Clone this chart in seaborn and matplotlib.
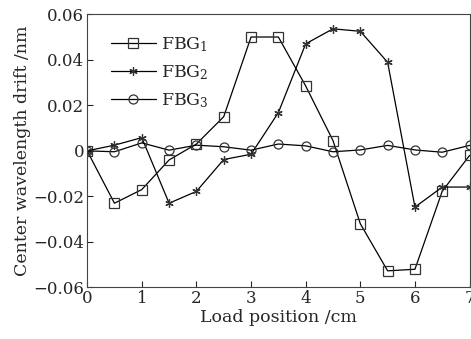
import seaborn as sns
import matplotlib.pyplot as plt
import pandas as pd

# load position (cm)
positions = [0, 0.5, 1, 1.5, 2, 2.5, 3, 3.5, 4, 4.5, 5, 5.5, 6, 6.5, 7]

# center wavelength drift (nm)
fbg1 = [0, -0.023, -0.017, -0.004, 0.003, 0.015, 0.050, 0.050, 0.0285, 0.0045,
        -0.032, -0.0527, -0.052, -0.0177, -0.002]
fbg2 = [0, 0.0025, 0.0058, -0.023, -0.0178, -0.0038, -0.0015, 0.0168, 0.047,
        0.0536, 0.0525, 0.0389, -0.0247, -0.0159, -0.0159]
fbg3 = [0, -0.0004, 0.0035, 0.0003, 0.0025, 0.0018, 0.0003, 0.003, 0.0022,
        -0.0004, 0.0004, 0.0024, 0.0004, -0.0006, 0.0024]

labels = ['FBG$_1$', 'FBG$_2$', 'FBG$_3$']
markers = ['s', (6, 2, 0), 'o']
msizes = [6.5, 6, 6.5]

sns.set_style('white')
plt.rcParams['font.family'] = 'DejaVu Serif'
plt.rcParams['mathtext.fontset'] = 'dejavuserif'
plt.rcParams['font.size'] = 12

fig = plt.figure(figsize=(4.71, 3.39), dpi=100)
ax = fig.add_axes([0.185, 0.152, 0.812, 0.806])

for vals, lab, mk, ms in zip([fbg1, fbg2, fbg3], labels, markers, msizes):
    df = pd.DataFrame({'pos': positions, 'drift': vals})
    sns.lineplot(data=df, x='pos', y='drift', ax=ax, color='black', lw=0.9,
                 marker=mk, markersize=ms, markerfacecolor='none',
                 markeredgecolor='#333333', markeredgewidth=0.9, label=lab)

ax.set_xlim(0, 7)
ax.set_ylim(-0.06, 0.06)
ax.set_xticks(range(0, 8))
ax.set_yticks([-0.06, -0.04, -0.02, 0, 0.02, 0.04, 0.06])
ax.set_yticklabels(['\u22120.06', '\u22120.04', '\u22120.02', '0', '0.02', '0.04', '0.06'])
ax.tick_params(direction='in', length=4, width=0.8, labelsize=12, pad=2,
               top=False, right=False, bottom=True, left=True)
for s in ax.spines.values():
    s.set_linewidth(0.8)
    s.set_color('#444444')

ax.set_xlabel('Load position /cm', fontsize=12.5, labelpad=1)
ax.set_ylabel('Center wavelength drift /nm', fontsize=12.5, labelpad=2)

leg = ax.legend(loc='upper left', bbox_to_anchor=(0.025, 0.975), frameon=False,
                fontsize=12.5, handlelength=2.6, handletextpad=0.3,
                labelspacing=0.55, borderaxespad=0.4)

fig.savefig('out.png', dpi=100)
